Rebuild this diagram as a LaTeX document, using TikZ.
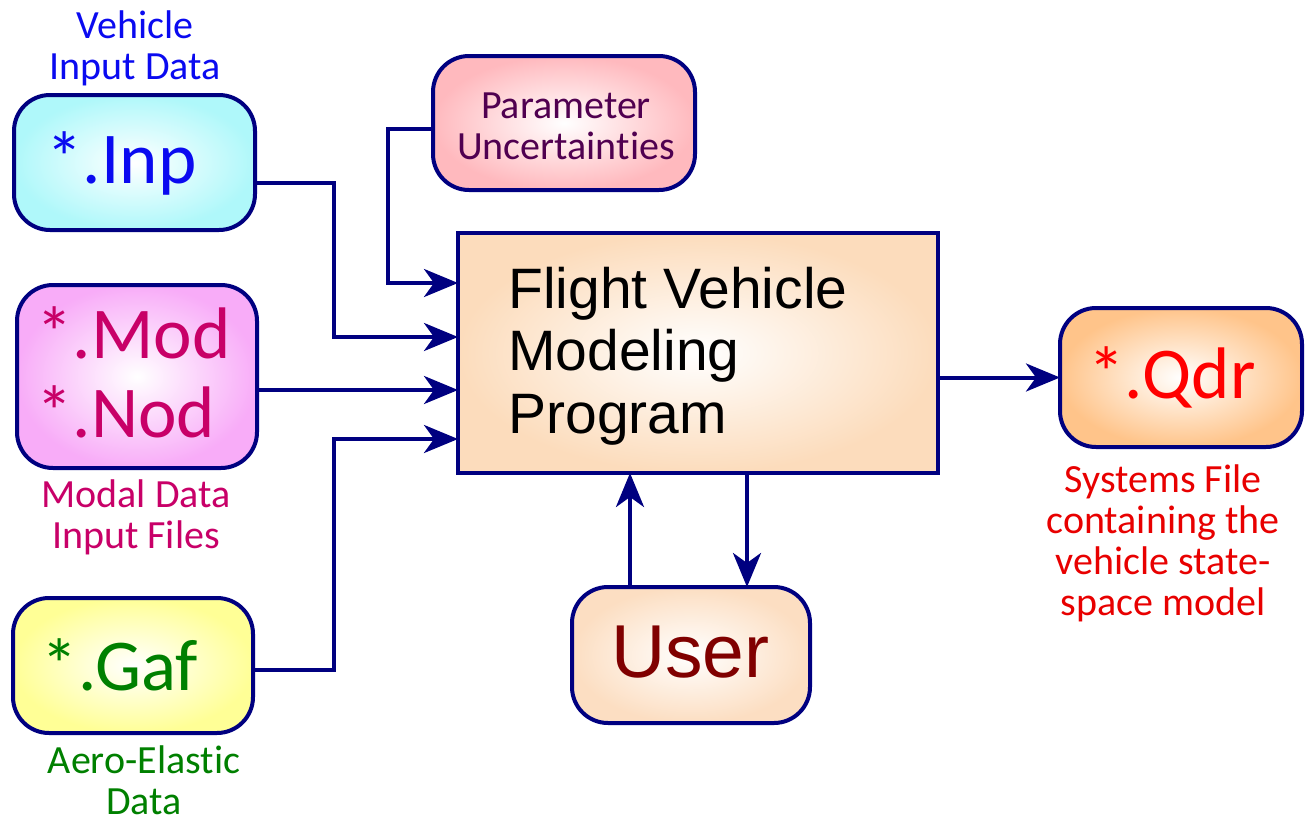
\documentclass[tikz,border=0pt]{standalone}
\usepackage{fontspec}
\usetikzlibrary{arrows.meta,calc}
\newfontfamily\carl[Ligatures={NoCommon}]{Carlito}
\newfontfamily\arl{Liberation Sans}

\definecolor{navy}{RGB}{0,0,128}
\definecolor{inpblue}{RGB}{10,10,240}
\definecolor{modtext}{RGB}{200,0,104}
\definecolor{gafgreen}{RGB}{0,128,0}
\definecolor{partext}{RGB}{80,0,80}
\definecolor{qdrred}{RGB}{255,0,0}
\definecolor{sysred}{RGB}{232,0,0}
\definecolor{usertext}{RGB}{128,0,0}
\definecolor{fcyan}{RGB}{175,248,250}
\definecolor{fmag}{RGB}{248,172,248}
\definecolor{fyel}{RGB}{255,255,150}
\definecolor{fpink}{RGB}{255,185,190}
\definecolor{fpeach}{RGB}{252,220,188}
\definecolor{fuser}{RGB}{252,222,194}
\definecolor{fqdr}{RGB}{255,196,138}

\tikzset{
  filebox/.style={draw=navy, line width=2pt, rounded corners=18pt,
    shade, shading=radial, inner color=white, outer color=#1,
    inner sep=0pt, outer sep=0pt},
  progbox/.style={draw=navy, line width=2pt,
    shade, shading=radial, inner color=white, outer color=#1,
    inner sep=0pt, outer sep=0pt},
  bigtext/.style={inner sep=0pt, anchor=base, font=\carl\fontsize{36.5}{40}\selectfont},
  caption/.style={inner sep=0pt, align=center, font=\carl\fontsize{20}{20.5}\selectfont},
  progtext/.style={inner sep=0pt, anchor=base west, font=\arl\fontsize{28.5}{31}\selectfont},
  conn/.style={draw=navy, line width=2pt,
    -{Stealth[length=17pt, width=14pt, inset=5pt]}},
}

\begin{document}
\begin{tikzpicture}[x=0.5pt, y=-0.5pt]
\useasboundingbox (0,0) rectangle (1307,825);

% input files
\node[filebox=fcyan, minimum width=120.5pt, minimum height=67.5pt] (inp) at (134.5,162.5) {};
\node[filebox=fmag, minimum width=120pt, minimum height=91.5pt] (mod) at (137,376.5) {};
\node[filebox=fyel, minimum width=120pt, minimum height=67.5pt] (gaf) at (133,665.5) {};
\node[filebox=fpink, minimum width=131pt, minimum height=67pt] (par) at (564,123) {};

% program, user and output
\node[progbox=fpeach, minimum width=240pt, minimum height=120pt] (main) at (698,353) {};
\node[filebox=fuser, minimum width=119pt, minimum height=68pt] (user) at (691,655) {};
\node[filebox=fqdr, minimum width=121pt, minimum height=69.5pt] (qdr) at (1181,377.5) {};

% texts in the boxes
\node[bigtext, text=inpblue] (inptxt) at (121.5,183) {*.Inp};
\node[bigtext, anchor=base west, text=modtext] (modtxt) at (36,358) {*.Mod};
\node[bigtext, anchor=base west, text=modtext] (nodtxt) at (36,437) {*.Nod};
\node[bigtext, text=gafgreen] (gaftxt) at (120,690) {*.Gaf};
\node[bigtext, text=qdrred] (qdrtxt) at (1172,398) {*.Qdr};
\node[inner sep=0pt, anchor=base, text=usertext, font=\arl\fontsize{37.5}{40}\selectfont] (usertxt) at (690.5,677) {User};
\node[caption, text=partext] (partxt) at (566,126) {Parameter\\Uncertainties};
\node[progtext] (prog1) at (508,308) {Flight Vehicle};
\node[progtext] (prog2) at (508,370) {Modeling};
\node[progtext] (prog3) at (508,433) {Program};

% captions
\node[caption, text=inpblue] (capinp) at (135,48) {Vehicle\\Input Data};
\node[caption, text=modtext] (capmod) at (136,517.5) {Modal Data\\Input Files};
\node[caption, text=gafgreen] (capgaf) at (144,780) {Aero-Elastic\\Data};
\node[caption, text=sysred] (capqdr) at (1163,543.5) {Systems File\\containing the\\vehicle state-\\space model};

% connectors into the program
\draw[conn] ($(par.west)+(0,6)$) -- ++(-45,0) |- ($(main.west)+(0,-70)$);
\draw[conn] ($(inp.east)+(0,20.5)$) -- ++(79,0) |- ($(main.west)+(0,-16)$);
\draw[conn] ($(mod.east)+(0,13.5)$) -- ($(main.west)+(0,37)$);
\draw[conn] ($(gaf.east)+(0,4.5)$) -- ++(81,0) |- ($(main.west)+(0,86)$);

% output
\draw[conn] (qdr.west -| main.east) -- (qdr.west);

% user interaction
\coordinate (uup) at ($(user.north)+(-61,0)$);
\coordinate (udn) at ($(user.north)+(56,0)$);
\draw[conn] (uup) -- (uup |- main.south);
\draw[conn] (udn |- main.south) -- (udn);
\end{tikzpicture}
\end{document}
